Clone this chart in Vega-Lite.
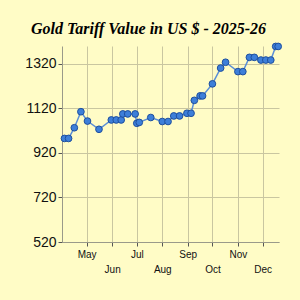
{
  "$schema": "https://vega.github.io/schema/vega-lite/v6.json",
  "width": 217,
  "height": 196,
  "autosize": {"type": "none"},
  "padding": {"left": 62, "top": 46, "right": 21, "bottom": 58},
  "background": "#FFFCC6",
  "title": {
    "text": "Gold Tariff Value in US $ - 2025-26",
    "font": "Liberation Serif",
    "fontSize": 16,
    "fontWeight": "bold",
    "fontStyle": "italic",
    "color": "#000000",
    "anchor": "middle",
    "baseline": "alphabetic",
    "offset": 15,
    "dx": -22,
    "dy": 24
  },
  "config": {
    "view": {"stroke": null},
    "axis": {
      "domainColor": "#9A9A8A",
      "gridColor": "#C9C6A0",
      "tickColor": "#555555",
      "labelColor": "#111111"
    }
  },
  "data": {
    "values": [
      {"date": "2025-04-04", "value": 985},
      {"date": "2025-04-09", "value": 985},
      {"date": "2025-04-16", "value": 1033},
      {"date": "2025-04-24", "value": 1105},
      {"date": "2025-05-02", "value": 1063},
      {"date": "2025-05-16", "value": 1026},
      {"date": "2025-05-31", "value": 1068},
      {"date": "2025-06-06", "value": 1068},
      {"date": "2025-06-12", "value": 1068},
      {"date": "2025-06-14", "value": 1095},
      {"date": "2025-06-20", "value": 1095},
      {"date": "2025-06-29", "value": 1095},
      {"date": "2025-07-01", "value": 1053},
      {"date": "2025-07-04", "value": 1057},
      {"date": "2025-07-18", "value": 1079},
      {"date": "2025-08-01", "value": 1061},
      {"date": "2025-08-08", "value": 1061},
      {"date": "2025-08-15", "value": 1086},
      {"date": "2025-08-22", "value": 1086},
      {"date": "2025-08-31", "value": 1098},
      {"date": "2025-09-05", "value": 1098},
      {"date": "2025-09-09", "value": 1156},
      {"date": "2025-09-16", "value": 1176},
      {"date": "2025-09-19", "value": 1176},
      {"date": "2025-10-01", "value": 1230},
      {"date": "2025-10-11", "value": 1301},
      {"date": "2025-10-17", "value": 1327},
      {"date": "2025-11-01", "value": 1285},
      {"date": "2025-11-07", "value": 1285},
      {"date": "2025-11-15", "value": 1349},
      {"date": "2025-11-21", "value": 1349},
      {"date": "2025-11-29", "value": 1337},
      {"date": "2025-12-05", "value": 1337},
      {"date": "2025-12-11", "value": 1337},
      {"date": "2025-12-17", "value": 1398},
      {"date": "2025-12-20", "value": 1398}
    ]
  },
  "encoding": {
    "x": {
      "field": "date",
      "type": "temporal",
      "scale": {
        "type": "utc",
        "domain": [
          {"year": 2025, "month": 4, "date": 1, "utc": true},
          {"year": 2025, "month": 12, "date": 21, "utc": true}
        ]
      },
      "axis": {
        "title": null,
        "values": [
          {"year": 2025, "month": 5, "date": 1, "utc": true},
          {"year": 2025, "month": 6, "date": 1, "utc": true},
          {"year": 2025, "month": 7, "date": 1, "utc": true},
          {"year": 2025, "month": 8, "date": 1, "utc": true},
          {"year": 2025, "month": 9, "date": 1, "utc": true},
          {"year": 2025, "month": 10, "date": 1, "utc": true},
          {"year": 2025, "month": 11, "date": 1, "utc": true},
          {"year": 2025, "month": 12, "date": 1, "utc": true}
        ],
        "labelExpr": "utcmonth(datum.value) % 2 == 1 ? ['', utcFormat(datum.value, '%b')] : utcFormat(datum.value, '%b')",
        "labelFont": "Liberation Sans",
        "labelFontSize": 10,
        "labelBaseline": "top",
        "labelLineHeight": 15,
        "labelPadding": 3,
        "tickSize": 4,
        "labelFlush": false,
        "labelOverlap": false,
        "grid": true
      }
    },
    "y": {
      "field": "value",
      "type": "quantitative",
      "scale": {"domain": [520, 1400], "nice": false, "zero": false},
      "axis": {
        "title": null,
        "values": [520, 720, 920, 1120, 1320],
        "format": "d",
        "labelFont": "Liberation Sans",
        "labelFontSize": 14,
        "labelPadding": 2,
        "tickSize": 4,
        "grid": true
      }
    }
  },
  "layer": [
    {"mark": {"type": "line", "color": "#5B8FD6", "strokeWidth": 1.5}},
    {"mark": {"type": "point", "filled": true, "fill": "#3D7FD9", "stroke": "#1E4F9E", "strokeWidth": 1, "size": 45, "opacity": 1}}
  ]
}
